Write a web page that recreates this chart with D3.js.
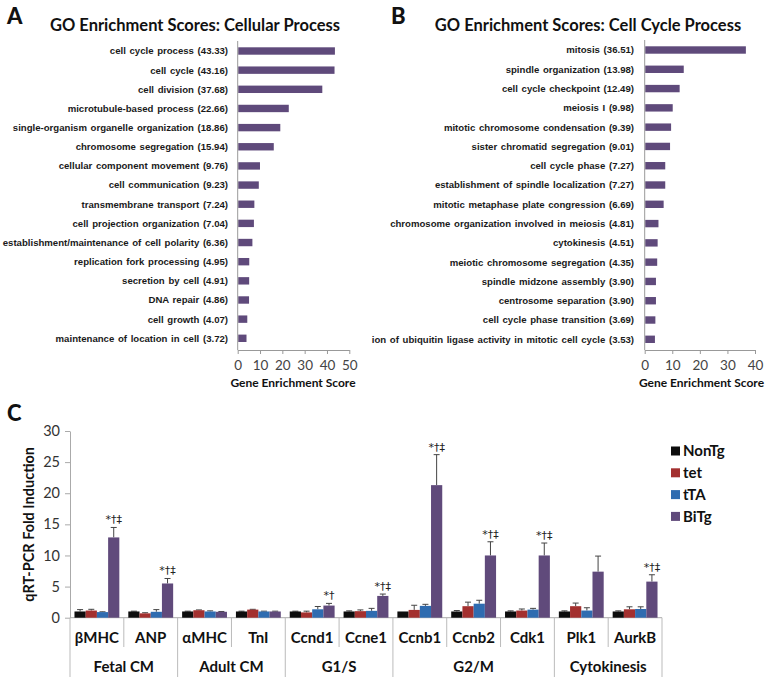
<!DOCTYPE html>
<html><head><meta charset="utf-8">
<script src="https://cdn.jsdelivr.net/npm/d3@7"></script>
<style>
body{margin:0;background:#fff;}
svg{display:block;}
</style>
</head><body>
<svg id="chart" width="769" height="682"></svg>
<script>
// ---------- Panel A data ----------
const termsA = ["cell cycle process","cell cycle","cell division","microtubule-based process",
 "single-organism organelle organization","chromosome segregation","cellular component movement",
 "cell communication","transmembrane transport","cell projection organization",
 "establishment/maintenance of cell polarity","replication fork processing","secretion by cell",
 "DNA repair","cell growth","maintenance of location in cell"];
const scoresA = [43.33,43.16,37.68,22.66,18.86,15.94,9.76,9.23,7.24,7.04,6.36,4.95,4.91,4.86,4.07,3.72];
const ticksA = [0,10,20,30,40,50];

// ---------- Panel B data ----------
const termsB = ["mitosis","spindle organization","cell cycle checkpoint","meiosis I",
 "mitotic chromosome condensation","sister chromatid segregation","cell cycle phase",
 "establishment of spindle localization","mitotic metaphase plate congression",
 "chromosome organization involved in meiosis","cytokinesis","meiotic chromosome segregation",
 "spindle midzone assembly","centrosome separation","cell cycle phase transition",
 "ion of ubiquitin ligase activity in mitotic cell cycle"];
const scoresB = [36.51,13.98,12.49,9.98,9.39,9.01,7.27,7.27,6.69,4.81,4.51,4.35,3.90,3.90,3.69,3.53];
const ticksB = [0,10,20,30,40];

// ---------- Panel C data ----------
const genes = ["βMHC","ANP","αMHC","TnI","Ccnd1","Ccne1","Ccnb1","Ccnb2","Cdk1","Plk1","AurkB"];
const geneGroups = [
  {name:"Fetal CM", genes:["βMHC","ANP"]},
  {name:"Adult CM", genes:["αMHC","TnI"]},
  {name:"G1/S", genes:["Ccnd1","Ccne1"]},
  {name:"G2/M", genes:["Ccnb1","Ccnb2","Cdk1"]},
  {name:"Cytokinesis", genes:["Plk1","AurkB"]}
];
const seriesNames = ["NonTg","tet","tTA","BiTg"];
const nonTg    = [1.0,1.0,1.0,1.0,1.0,1.0,1.0,1.0,1.0,1.0,1.0];
const nonTgErr = [0.3,0.05,0.05,0.05,0.05,0.1,0.0,0.15,0.1,0.1,0.1];
const tet      = [1.15,0.7,1.2,1.3,0.85,1.05,1.25,1.85,1.15,1.85,1.35];
const tetErr   = [0.2,0.1,0.05,0.05,0.2,0.2,0.75,0.65,0.25,0.5,0.4];
const tTA      = [0.9,0.95,1.0,1.0,1.35,1.1,1.9,2.25,1.3,1.15,1.4];
const tTAErr   = [0.05,0.35,0.1,0.05,0.45,0.4,0.25,0.55,0.2,0.45,0.35];
const biTg     = [12.9,5.5,0.95,1.0,1.95,3.5,21.3,10.0,10.0,7.4,5.8];
const biTgErr  = [1.6,0.8,0.05,0.05,0.35,0.3,4.9,2.2,2.0,2.5,1.1];
const signif   = ["*†‡","*†‡","","","*†","*†‡","*†‡","*†‡","*†‡","","*†‡"];
const ticksC = [0,5,10,15,20,25,30];

const seriesVals = [nonTg, tet, tTA, biTg];
const seriesErrs = [nonTgErr, tetErr, tTAErr, biTgErr];
const colors = {NonTg:"#0d0d0d", tet:"#a3302f", tTA:"#2f6cb0", BiTg:"#604a7b"};
const goColor = "#5f4a7b";

const svg = d3.select("#chart");
const labelFont = "'Liberation Sans', Arial, sans-serif";
const calFont = "Lato, 'Open Sans', sans-serif";
const symFont = "'DejaVu Sans', sans-serif";

// ---------- GO panel builder ----------
function goPanel(cfg){
  const g = svg.append("g");
  const x = d3.scaleLinear().domain([0, cfg.max]).range([cfg.x0, cfg.x1]);
  const y = d3.scalePoint().domain(cfg.terms).range([cfg.yTop, cfg.yBot]);
  g.append("text").attr("x", cfg.letterX).attr("y", 24).text(cfg.letter)
    .attr("font-family", calFont).attr("font-weight", 900).attr("font-size", 22).attr("fill","#111");
  g.append("text").attr("x", cfg.titleX).attr("y", 31).attr("text-anchor","middle").text(cfg.title)
    .attr("font-family", calFont).attr("font-weight", 700).attr("font-size", 16.5).attr("fill","#111");
  g.selectAll("rect.bar").data(cfg.terms).join("rect")
    .attr("x", x(0)+0.5).attr("y", d => y(d) - 3.7)
    .attr("width", (d,i) => x(cfg.scores[i]) - x(0)).attr("height", 7.4)
    .attr("fill", goColor);
  g.selectAll("text.lab").data(cfg.terms).join("text")
    .attr("x", cfg.labelX).attr("y", d => y(d)).attr("dy","0.35em")
    .attr("text-anchor","end")
    .attr("font-family", labelFont).attr("font-size", 9.6).attr("font-weight", 700)
    .attr("word-spacing", 1)
    .attr("fill","#1a1a1a")
    .text((d,i) => `${d} (${cfg.scores[i].toFixed(2)})`);
  g.append("line").attr("x1", x(0)).attr("x2", x(0)).attr("y1", cfg.yTop - 10).attr("y2", cfg.axisY)
    .attr("stroke","#999").attr("stroke-width",1);
  const ax = g.append("g").attr("transform", `translate(0,${cfg.axisY})`)
    .call(d3.axisBottom(x).tickValues(cfg.ticks).tickSize(4).tickSizeOuter(0).tickPadding(6));
  ax.select(".domain").attr("stroke","#999");
  ax.selectAll(".tick line").attr("stroke","#999");
  ax.selectAll(".tick text").attr("font-family", calFont).attr("font-size", 13.5).attr("fill","#444");
  g.append("text").attr("x", cfg.axTitleX).attr("y", 387).attr("text-anchor","middle")
    .text("Gene Enrichment Score")
    .attr("font-family", calFont).attr("font-weight", 700).attr("font-size", 12).attr("fill","#111");
}

goPanel({letter:"A", letterX:7, title:"GO Enrichment Scores: Cellular Process", titleX:195,
  terms:termsA, scores:scoresA, max:50, ticks:ticksA, x0:237.7, x1:349.3,
  yTop:51, yBot:338.3, axisY:350, labelX:228, axTitleX:293});
goPanel({letter:"B", letterX:391, title:"GO Enrichment Scores: Cell Cycle Process", titleX:588,
  terms:termsB, scores:scoresB, max:40, ticks:ticksB, x0:644.7, x1:755,
  yTop:50, yBot:339.3, axisY:350, labelX:634, axTitleX:701.5});

// ---------- Panel C ----------
const gc = svg.append("g");
const cx0 = 70, cx1 = 662, cy0 = 617.7, cy1 = 431;
const xC = d3.scaleBand().domain(genes).range([cx0, cx1]).paddingInner(0).paddingOuter(0);
const xS = d3.scaleBand().domain(seriesNames).range([0, xC.bandwidth()]).paddingInner(0).paddingOuter(0.4);
const yC = d3.scaleLinear().domain([0,30]).range([cy0, cy1]);

gc.append("text").attr("x", 7).attr("y", 421).text("C")
  .attr("font-family", calFont).attr("font-weight", 900).attr("font-size", 22).attr("fill","#111");

const yAx = gc.append("g").attr("transform", `translate(${cx0},0)`)
  .call(d3.axisLeft(yC).tickValues(ticksC).tickSize(5).tickSizeOuter(0).tickPadding(5));
yAx.select(".domain").attr("stroke","#aaa");
yAx.selectAll(".tick line").attr("stroke","#aaa");
yAx.selectAll(".tick text").attr("font-family", calFont).attr("font-size", 14.5).attr("fill","#333");
gc.append("text").attr("transform", `translate(34,${(cy0+cy1)/2}) rotate(-90)`)
  .attr("text-anchor","middle").text("qRT-PCR Fold Induction")
  .attr("font-family", calFont).attr("font-weight", 700).attr("font-size", 14.5).attr("fill","#111");

gc.append("line").attr("x1", cx0).attr("x2", cx1).attr("y1", cy0).attr("y2", cy0).attr("stroke","#aaa");
const groupStarts = new Set(geneGroups.map(g => g.genes[0]));
genes.forEach(gn => {
  const xx = xC(gn);
  const long = groupStarts.has(gn);
  gc.append("line").attr("x1", xx).attr("x2", xx).attr("y1", cy0).attr("y2", long ? 677 : 647)
    .attr("stroke","#bbb");
});
gc.append("line").attr("x1", cx1).attr("x2", cx1).attr("y1", cy0).attr("y2", 677).attr("stroke","#bbb");
gc.selectAll("text.gene").data(genes).join("text")
  .attr("x", d => xC(d) + xC.bandwidth()/2).attr("y", 638).attr("dy","0.35em")
  .attr("text-anchor","middle").text(d => d)
  .attr("font-family", calFont).attr("font-weight", 700).attr("font-size", 15).attr("fill","#111");
gc.selectAll("text.grp").data(geneGroups).join("text")
  .attr("x", d => (xC(d.genes[0]) + xC(d.genes[d.genes.length-1]) + xC.bandwidth())/2)
  .attr("y", 667).attr("dy","0.35em").attr("text-anchor","middle").text(d => d.name)
  .attr("font-family", calFont).attr("font-weight", 700).attr("font-size", 15).attr("fill","#111");

seriesNames.forEach((s, si) => {
  const vals = seriesVals[si], errs = seriesErrs[si];
  const sg = gc.append("g");
  genes.forEach((gn, gi) => {
    const bx = xC(gn) + xS(s);
    const bw = xS.bandwidth();
    const cxm = bx + bw/2;
    const top = vals[gi] + errs[gi];
    if (errs[gi] > 0) {
      sg.append("line").attr("x1", cxm).attr("x2", cxm).attr("y1", yC(vals[gi])).attr("y2", yC(top))
        .attr("stroke","#444").attr("stroke-width",1);
      sg.append("line").attr("x1", cxm-3).attr("x2", cxm+3).attr("y1", yC(top)).attr("y2", yC(top))
        .attr("stroke","#444").attr("stroke-width",1);
    }
    sg.append("rect").attr("x", bx).attr("y", yC(vals[gi])).attr("width", bw)
      .attr("height", yC(0) - yC(vals[gi])).attr("fill", colors[s]);
  });
});
gc.selectAll("text.sig").data(genes).join("text")
  .attr("x", d => xC(d) + xS("BiTg") + xS.bandwidth()/2)
  .attr("y", (d,i) => yC(biTg[i] + biTgErr[i]) - 4)
  .attr("text-anchor","middle").text((d,i) => signif[i])
  .attr("font-family", symFont).attr("font-size", 11).attr("fill","#222");

const lg = gc.append("g").attr("transform","translate(671,451)");
seriesNames.forEach((s,i) => {
  const row = lg.append("g").attr("transform", `translate(0,${i*21.8})`);
  row.append("rect").attr("x",0).attr("y",-4.5).attr("width",9).attr("height",9).attr("fill",colors[s]);
  row.append("text").attr("x",12).attr("y",0).attr("dy","0.35em").text(s)
    .attr("font-family", calFont).attr("font-weight",700).attr("font-size",15).attr("fill","#111");
});
</script>
</body></html>
